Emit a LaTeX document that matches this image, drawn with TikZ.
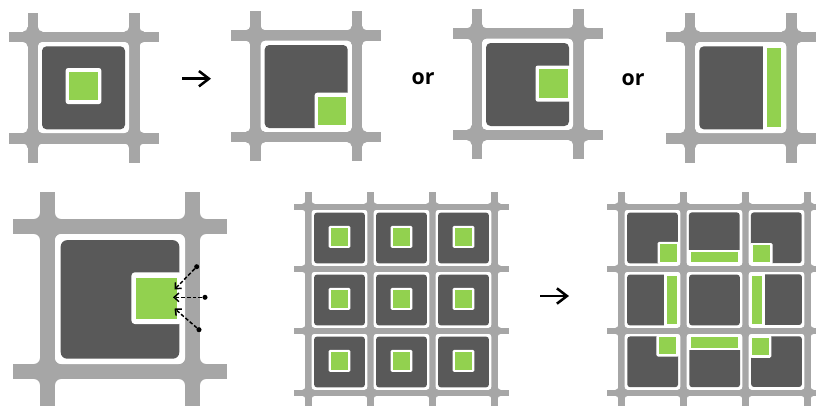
\documentclass[tikz,border=0pt]{standalone}
\usepackage{fontspec}
\setmainfont{Open Sans}
\usetikzlibrary{arrows.meta}
\definecolor{roadgray}{HTML}{A6A6A6}
\definecolor{lotdark}{HTML}{595959}
\definecolor{lotgreen}{HTML}{92D14F}
\tikzset{
    road/.style={fill=roadgray},
    lotbase/.style={fill=lotdark},
    gap/.style={fill=white},
    open/.style={fill=lotgreen},
    orlabel/.style={font=\bfseries\fontsize{16}{18}\selectfont, inner sep=0pt},
    bigarrow/.style={-{Straight Barb[length=7.5pt,width=11.5pt]}, line width=1.9pt, black},
    access/.style={-{Straight Barb[length=3.6pt,width=6.5pt]}, line width=1.1pt, dash pattern=on 2.8pt off 1.5pt, black},
    accessdot/.style={circle, fill=black, inner sep=0pt, minimum size=3.8pt}
}
% #1,#2 = corner of first lot, #3 = scale, #4 = lots per side minus one
\newcommand{\roadnet}[4]{
    \begin{scope}[shift={(#1,#2)}, scale=#3]
        \pgfmathsetlengthmacro{\filletround}{3.2*#3}
        \pgfmathsetmacro{\total}{(#4+1)*101.5+19}
        \foreach \i in {-1,...,#4} {
            \pgfmathsetmacro{\far}{(\i+1)*101.5}
            \fill[road] (\far-10.5,-29.5) rectangle (\far,\total);
            \fill[road] (-29.5,\far-10.5) rectangle (\total,\far);
        }
        \foreach \i in {-1,...,#4} {
            \foreach \j in {-1,...,#4} {
                \begin{scope}[shift={(\i*101.5+96.25,\j*101.5+96.25)}]
                    \fill[road, rounded corners=\filletround]
                        (-5.25,-13) -- (5.25,-13) -- (5.25,-5.25) -- (13,-5.25) -- (13,5.25) -- (5.25,5.25)
                        -- (5.25,13) -- (-5.25,13) -- (-5.25,5.25) -- (-13,5.25) -- (-13,-5.25) -- (-5.25,-5.25) -- cycle;
                \end{scope}
            }
        }
    \end{scope}
}
% #1,#2 = corner, #3 = rotation, #4 = open space, \lotscale set by caller
\newcommand{\parcel}[4]{
    \begin{scope}[shift={(#1,#2)}, scale=\lotscale, rotate around={#3:(45.5,45.5)}]
        \pgfmathsetlengthmacro{\lotround}{3.4*\lotscale}
        \pgfmathsetlengthmacro{\cutround}{1.8*\lotscale}
        \fill[gap, rounded corners=\lotround] (0,0) rectangle (91,91);
        \fill[lotbase, rounded corners=\lotround] (4,4.3) rectangle (87,87.3);
        #4
    \end{scope}
}
\newcommand{\greencentre}{
    \fill[gap, rounded corners=\cutround] (27.7,26) rectangle (63.3,62);
    \fill[open] (31.3,30) rectangle (60,58.3);
}
\newcommand{\greencorner}{
    \fill[gap, rounded corners=\cutround] (54,52) rectangle (89,89);
    \fill[open] (57.5,56) rectangle (85.6,84.5);
}
\newcommand{\greenside}{
    \fill[gap, rounded corners=\cutround] (53.5,26.8) rectangle (89,63);
    \fill[open] (57,30.6) rectangle (85.6,59.3);
}
\newcommand{\greenbar}[1]{
    \fill[gap] (#1,2) rectangle (89,89);
    \fill[open] (#1+3.8,6.4) rectangle (85.4,84.6);
}
\begin{document}
\begin{tikzpicture}[x=0.75pt, y=-0.75pt]
    \useasboundingbox (0,0) rectangle (816,405);
    \clip (0,0) rectangle (816,405);
    % ---- top row ----
    \def\lotscale{1}
    \roadnet{38}{42}{1}{0}
    \parcel{38}{42}{0}{\greencentre}
    \roadnet{260.7}{40.7}{1}{0}
    \parcel{260.7}{40.7}{0}{\greencorner}
    \roadnet{482}{38.7}{1}{0}
    \parcel{482}{38.7}{0}{\greenside}
    \roadnet{695.3}{42}{1}{0}
    \parcel{695.3}{42}{0}{\greenbar{68}}
    % ---- top row labels ----
    \coordinate (arrowAstart) at (182,78.7);
    \coordinate (arrowAend) at (211,78.7);
    \draw[bigarrow] (arrowAstart) -- (arrowAend);
    \node[orlabel] (orA) at (423,79) {or};
    \node[orlabel] (orB) at (633,79.5) {or};
    % ---- large lot with access points ----
    \def\lotscale{1.4286}
    \roadnet{55}{234}{1.4286}{0}
    \parcel{55}{234}{0}{\greenside}
    \node[accessdot] (dotA) at (196.7,266.7) {};
    \node[accessdot] (dotB) at (205,297.3) {};
    \node[accessdot] (dotC) at (199,329.7) {};
    \coordinate (tipA) at (174.5,289.5);
    \coordinate (tipB) at (173,297.3);
    \coordinate (tipC) at (174.5,308.5);
    \draw[access] (dotA) -- (tipA);
    \draw[access] (dotB) -- (tipB);
    \draw[access] (dotC) -- (tipC);
    % ---- middle grid ----
    \def\lotscale{0.611}
    \roadnet{311.7}{210}{0.611}{2}
    \foreach \cx in {0,1,2} {
        \foreach \cy in {0,1,2} {
            \parcel{311.7+\cx*62}{210+\cy*62}{0}{\greencentre}
        }
    }
    \coordinate (arrowBstart) at (540,296);
    \coordinate (arrowBend) at (569,296);
    \draw[bigarrow] (arrowBstart) -- (arrowBend);
    % ---- right grid ----
    \roadnet{624.7}{210}{0.611}{2}
    \foreach \cx/\cy/\rot/\kind in {0/0/0/\greencorner, 1/0/-90/{\greenbar{65}}, 2/0/-90/\greencorner,
                                    0/1/0/{\greenbar{65}}, 1/1/0/\relax, 2/1/180/{\greenbar{65}},
                                    0/2/90/\greencorner, 1/2/90/{\greenbar{65}}, 2/2/180/\greencorner} {
        \parcel{624.7+\cx*62}{210+\cy*62}{\rot}{\kind}
    }
\end{tikzpicture}
\end{document}
